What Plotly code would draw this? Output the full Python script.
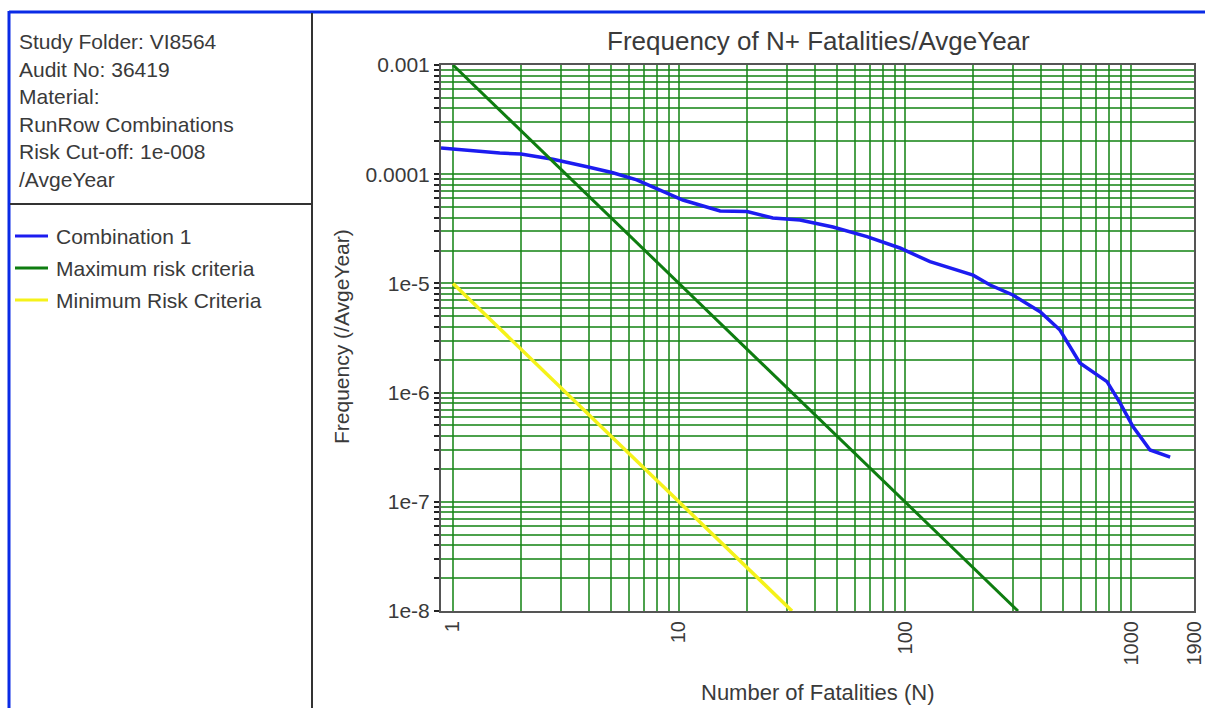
import math
import plotly.graph_objects as go

# F-N curve for the study combination (N fatalities, frequency per average year)
combo_n = [0.885, 1.0, 1.23, 1.61, 2.0, 2.77, 3.92, 5.1, 6.5, 8.24, 10.4, 15.2, 20.0,
           26.0, 34.3, 48.0, 67.9, 95.0, 129.0, 200.0, 238.0, 300.0, 396.0, 485.0,
           594.0, 783.0, 894.0, 1020.0, 1214.0, 1490.0]
combo_f = [1.74e-4, 1.70e-4, 1.63e-4, 1.56e-4, 1.53e-4, 1.37e-4, 1.17e-4, 1.03e-4,
           8.86e-5, 7.16e-5, 5.8e-5, 4.6e-5, 4.55e-5, 3.97e-5, 3.81e-5, 3.28e-5,
           2.68e-5, 2.11e-5, 1.58e-5, 1.19e-5, 9.67e-6, 7.83e-6, 5.51e-6, 3.74e-6,
           1.87e-6, 1.26e-6, 8.04e-7, 4.88e-7, 2.98e-7, 2.57e-7]

# Criteria lines (slope -2 on log-log axes)
max_n = [1.0, 316.2]
max_f = [1e-3, 1e-8]
min_n = [1.0, 31.62]
min_f = [1e-5, 1e-8]

series_names = ["Combination 1", "Maximum risk criteria", "Minimum Risk Criteria"]
series_colors = ["#1c1cf0", "#0e7d10", "#f5f21a"]
series_widths = [3.5, 3, 3.5]

info_lines = ["Study Folder: VI8564", "Audit No: 36419", "Material:",
              "RunRow Combinations", "Risk Cut-off: 1e-008", "/AvgeYear"]

title_text = "Frequency of N+ Fatalities/AvgeYear"
x_title = "Number of Fatalities (N)"
y_title = "Frequency (/AvgeYear)"

# Gridline positions on both log axes
x_grid = [m * 10 ** e for e in range(0, 3) for m in range(1, 10)] + [1000, 1900]
x_labels = {1: "1", 10: "10", 100: "100", 1000: "1000", 1900: "1900"}
y_grid = [m * 10.0 ** e for e in range(-8, -3) for m in range(1, 10)] + [1e-3]
y_labels = {-8: "1e-8", -7: "1e-7", -6: "1e-6", -5: "1e-5", -4: "0.0001", -3: "0.001"}

W, H = 1205, 708
L, R, T, B = 441, 1194, 65, 611
TXT = "#3a3a3a"
FONT = "Liberation Sans, Arial, sans-serif"


def px(x):
    return (x - L) / (R - L)


def py(y):
    return (B - y) / (B - T)


y_ticktext = []
for v in y_grid:
    e = round(math.log10(v))
    y_ticktext.append(y_labels[e] if abs(v - 10.0 ** e) < 1e-15 else "")
x_ticktext = [x_labels.get(v, "") for v in x_grid]

fig = go.Figure()
for n, f, name, col, w in zip([combo_n, max_n, min_n], [combo_f, max_f, min_f],
                              series_names, series_colors, series_widths):
    fig.add_trace(go.Scatter(x=n, y=f, mode="lines", name=name,
                             line=dict(color=col, width=w), showlegend=False))

grid_col = "rgba(25,135,25,0.78)"
fig.update_xaxes(type="log", range=[math.log10(0.885), math.log10(1900)],
                 tickvals=x_grid, ticktext=x_ticktext, tickangle=-90, automargin=False,
                 showgrid=True, gridcolor=grid_col, gridwidth=2,
                 ticks="", showline=True, linecolor="#555", linewidth=2, mirror=True,
                 tickfont=dict(family=FONT, size=20, color=TXT), zeroline=False)
fig.update_yaxes(type="log", range=[-8, -3], automargin=False,
                 tickvals=y_grid, ticktext=y_ticktext,
                 showgrid=True, gridcolor=grid_col, gridwidth=2,
                 ticks="outside", ticklen=5, tickcolor="#222", tickwidth=1.5,
                 showline=True, linecolor="#555", linewidth=2, mirror=True,
                 tickfont=dict(family=FONT, size=21, color=TXT), zeroline=False)

shapes = []
# outer blue frame (top and left edges)
shapes.append(dict(type="line", xref="paper", yref="paper", x0=px(9), x1=px(W + 5),
                   y0=py(12), y1=py(12), line=dict(color="#0a2be6", width=3)))
shapes.append(dict(type="line", xref="paper", yref="paper", x0=px(9), x1=px(9),
                   y0=py(11), y1=py(H + 5), line=dict(color="#0a2be6", width=3)))
# panel dividers
shapes.append(dict(type="line", xref="paper", yref="paper", x0=px(312), x1=px(312),
                   y0=py(13), y1=py(H + 5), line=dict(color="#333", width=2)))
shapes.append(dict(type="line", xref="paper", yref="paper", x0=px(10), x1=px(312),
                   y0=py(204), y1=py(204), line=dict(color="#333", width=2)))

annotations = []
for i, line in enumerate(info_lines):
    annotations.append(dict(text=line, xref="paper", yref="paper", x=px(17), y=py(42 + 27.4 * i),
                            xanchor="left", yanchor="middle", showarrow=False,
                            font=dict(family=FONT, size=21, color=TXT)))

# hand-drawn legend in the side panel
for i, (name, col) in enumerate(zip(series_names, series_colors)):
    yy = 236 + 32 * i
    shapes.append(dict(type="line", xref="paper", yref="paper", x0=px(15), x1=px(48),
                       y0=py(yy), y1=py(yy), line=dict(color=col, width=3)))
    annotations.append(dict(text=name, xref="paper", yref="paper", x=px(54), y=py(yy),
                            xanchor="left", yanchor="middle", showarrow=False,
                            font=dict(family=FONT, size=21, color=TXT)))

annotations.append(dict(text=title_text, xref="paper", yref="paper", x=px(818), y=py(41),
                        xanchor="center", yanchor="middle", showarrow=False,
                        font=dict(family=FONT, size=26, color=TXT)))
annotations.append(dict(text=x_title, xref="paper", yref="paper", x=px(818), y=py(692),
                        xanchor="center", yanchor="middle", showarrow=False,
                        font=dict(family=FONT, size=22, color=TXT)))
annotations.append(dict(text=y_title, xref="paper", yref="paper", x=px(341), y=py(337),
                        xanchor="center", yanchor="middle", showarrow=False, textangle=-90,
                        font=dict(family=FONT, size=21, color=TXT)))

fig.update_layout(width=W, height=H, margin=dict(l=L, r=W - R, t=T, b=H - B),
                  paper_bgcolor="white", plot_bgcolor="white",
                  shapes=shapes, annotations=annotations, showlegend=False)

fig.write_html("out.html")
